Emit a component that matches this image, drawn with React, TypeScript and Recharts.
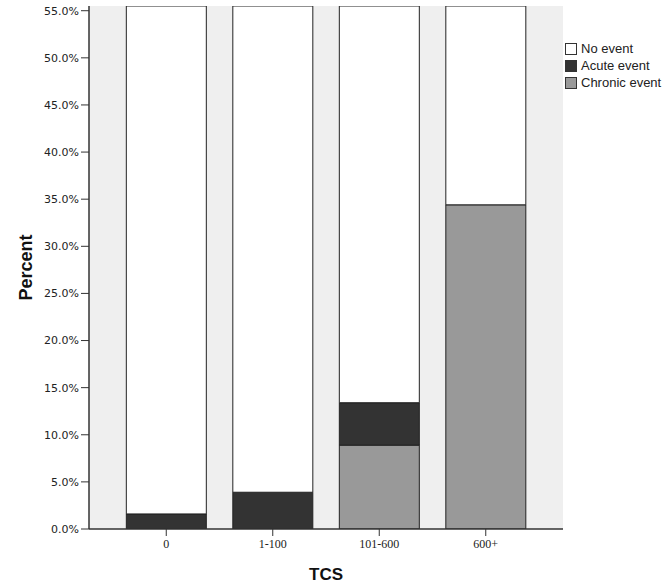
import { BarChart, Bar, XAxis, YAxis, CartesianGrid, Legend } from "recharts";

/* Stacked percent bars by TCS group, SPSS-style frame */

const CATEGORIES = ['0', '1-100', '101-600', '600+'];
const CHRONIC = [0, 0, 8.9, 34.4];
const ACUTE = [1.6, 3.9, 4.5, 0];
const NO_EVENT = [98.4, 96.1, 86.6, 65.6];
const Y_TICKS = [0, 5, 10, 15, 20, 25, 30, 35, 40, 45, 50, 55];

const SERIES = [
  { key: 'noEvent', name: 'No event', fill: '#FFFFFF' },
  { key: 'acute', name: 'Acute event', fill: '#333333' },
  { key: 'chronic', name: 'Chronic event', fill: '#999999' },
];

const data = CATEGORIES.map((c, i) => ({
  tcs: c, chronic: CHRONIC[i], acute: ACUTE[i], noEvent: NO_EVENT[i],
}));

const SANS = '"Liberation Sans", Arial, sans-serif';

function LegendBox() {
  return (
    <div style={{ fontFamily: SANS, fontSize: 13, color: '#222' }}>
      {SERIES.map(s => (
        <div key={s.key} style={{ display: 'flex', alignItems: 'center', height: 17 }}>
          <span style={{ width: 10, height: 10, background: s.fill, border: '1px solid #333', marginRight: 4 }} />
          <span>{s.name}</span>
        </div>
      ))}
    </div>
  );
}

const yLabel = (p: any) => {
  const vb = p.viewBox;
  return (
    <text x={26} y={vb.y + vb.height / 2} transform={`rotate(-90, 26, ${vb.y + vb.height / 2})`}
      textAnchor="middle" dominantBaseline="central" fontFamily={SANS} fontWeight="bold" fontSize={18} fill="#111">
      Percent
    </text>
  );
};

const xLabel = (p: any) => {
  const vb = p.viewBox;
  return (
    <text x={vb.x + vb.width / 2} y={574} textAnchor="middle" dominantBaseline="central"
      fontFamily={SANS} fontWeight="bold" fontSize={17} fill="#111">
      TCS
    </text>
  );
};

export default function App() {
  return (
    <div style={{ position: 'absolute', left: 0, top: 0, background: '#fff' }}>
      <BarChart width={664} height={588} data={data} barCategoryGap="12.5%"
        margin={{ top: 6, right: 101, bottom: 0, left: 0 }}>
        <CartesianGrid horizontal={false} vertical={false} fill="#EFEFEF" />
        <XAxis dataKey="tcs" height={59} padding={{ left: 24, right: 24 }}
          axisLine={{ stroke: '#333', strokeWidth: 1.5 }} tickLine={{ stroke: '#333' }} tickSize={7} tickMargin={3}
          tick={{ fontFamily: '"Liberation Serif", serif', fontSize: 12, fill: '#222' }}
          label={{ content: xLabel }} />
        <XAxis xAxisId="top" dataKey="tcs" orientation="top" height={0} tick={false} tickLine={false}
          axisLine={{ stroke: '#777' }} />
        <YAxis width={89} domain={[0, 55.5]} ticks={Y_TICKS} allowDataOverflow
          axisLine={{ stroke: '#333', strokeWidth: 1.5 }} tickLine={{ stroke: '#333' }} tickSize={8} tickMargin={2}
          tick={{ fontFamily: '"DejaVu Sans", sans-serif', fontSize: 11, fill: '#222' }}
          tickFormatter={(v: number) => v.toFixed(1) + '%'}
          label={{ content: yLabel }} />
        <YAxis yAxisId="right" orientation="right" width={0} domain={[0, 55.5]} tick={false} tickLine={false}
          axisLine={{ stroke: '#777' }} />
        <Legend layout="horizontal" verticalAlign="middle" align="center" content={() => <LegendBox />}
          wrapperStyle={{ left: 565, top: 40, width: 'auto', height: 'auto' }} />
        <Bar dataKey="chronic" stackId="s" fill="#999999" stroke="#222" strokeWidth={1} isAnimationActive={false} />
        <Bar dataKey="acute" stackId="s" fill="#333333" stroke="#222" strokeWidth={1} isAnimationActive={false} />
        <Bar dataKey="noEvent" stackId="s" fill="#FFFFFF" stroke="#222" strokeWidth={1} isAnimationActive={false} />
      </BarChart>
    </div>
  );
}
